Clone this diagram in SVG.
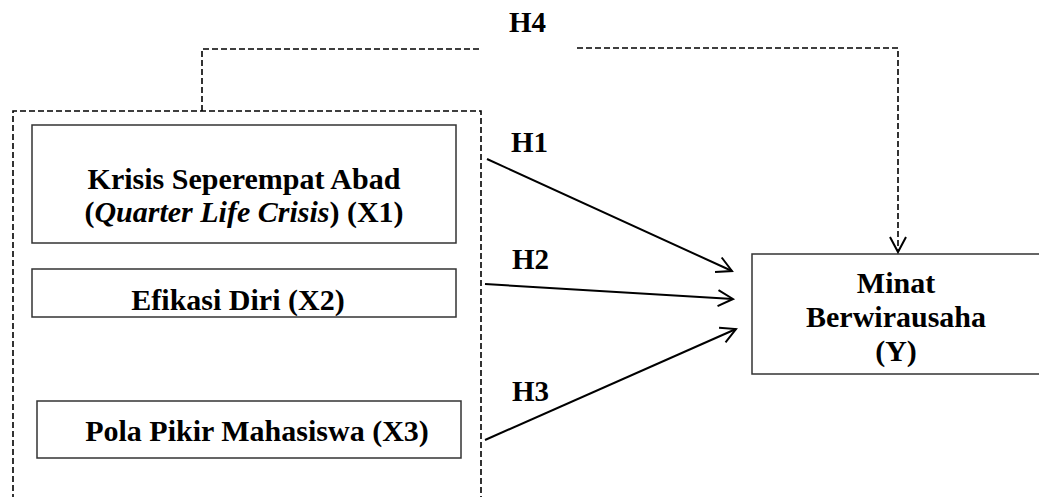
<svg xmlns="http://www.w3.org/2000/svg" width="1039" height="497" viewBox="0 0 1039 497">
<style>
.t{font-family:"Liberation Serif","Times New Roman",serif;font-weight:bold;font-size:30px;fill:#000;text-anchor:middle}
.lbl{font-family:"Liberation Serif","Times New Roman",serif;font-weight:bold;font-size:29px;fill:#000}
.box{fill:#fff;stroke:#333;stroke-width:1.5}
.dash{fill:none;stroke:#000;stroke-width:1.6;stroke-dasharray:6,3}
.arr{fill:none;stroke:#000;stroke-width:2}
</style>
<defs>
<marker id="ah" markerUnits="userSpaceOnUse" markerWidth="20" markerHeight="20" viewBox="0 0 20 20" refX="16" refY="10" orient="auto">
<path d="M1,2 L16,10 L1,18" fill="none" stroke="#000" stroke-width="2"/>
</marker>
</defs>
<g id="group-box">
<path class="dash" d="M13,500 V111 H481 V500"/>
</g>
<g id="x1">
<rect class="box" x="32" y="125" width="424" height="118"/>
<text class="t" x="244" y="189">Krisis Seperempat Abad</text>
<text class="t" x="244" y="222">(<tspan font-style="italic">Quarter Life Crisis</tspan>) (X1)</text>
</g>
<g id="x2">
<rect class="box" x="32" y="269" width="424" height="48"/>
<text class="t" x="238" y="310">Efikasi Diri (X2)</text>
</g>
<g id="x3">
<rect class="box" x="37" y="401" width="424" height="57"/>
<text class="t" x="257" y="441">Pola Pikir Mahasiswa (X3)</text>
</g>
<g id="y">
<rect class="box" x="752" y="254" width="295" height="120"/>
<text class="t" x="896" y="293">Minat</text>
<text class="t" x="896" y="327">Berwirausaha</text>
<text class="t" x="896" y="361">(Y)</text>
</g>
<g id="connectors">
<path class="arr" d="M487,159 L732,271" marker-end="url(#ah)"/>
<path class="arr" d="M485,284 L733,299" marker-end="url(#ah)"/>
<path class="arr" d="M485,440 L736,329" marker-end="url(#ah)"/>
<path class="dash" d="M202,111 V49 H479"/>
<path class="dash" d="M577,48 H898 V252" marker-end="url(#ah)"/>
<text class="lbl" x="511" y="152">H1</text>
<text class="lbl" x="512" y="269">H2</text>
<text class="lbl" x="512" y="401">H3</text>
<text class="lbl" x="509" y="32">H4</text>
</g>
</svg>
